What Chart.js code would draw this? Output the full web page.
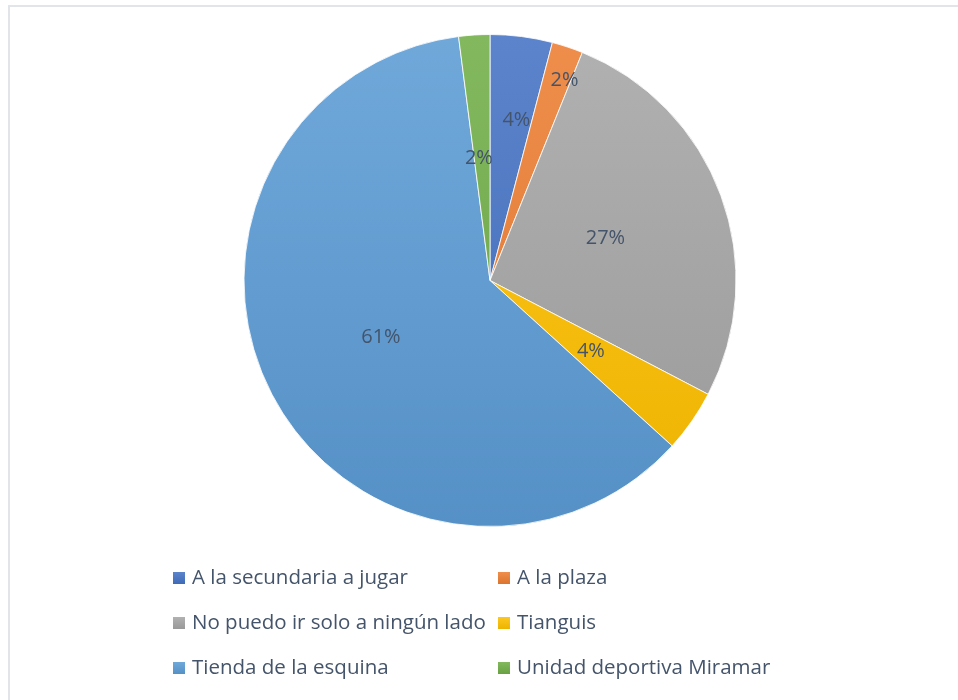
<!DOCTYPE html>
<html>
<head>
<meta charset="utf-8">
<script src="https://cdn.jsdelivr.net/npm/chart.js@4.4.0/dist/chart.umd.min.js"></script>
<style>
  body { margin: 0; background: #fff; overflow: hidden; }
  .frame { position: absolute; left: 8px; top: 5px; width: 1000px; height: 800px; border: 2px solid #e1e4e9; box-sizing: border-box; }
  canvas { position: absolute; left: 0; top: 0; }
</style>
</head>
<body>
<div class="frame"></div>
<canvas id="pieChart" width="958" height="700"></canvas>
<script>
const categories = [
    'A la secundaria a jugar',
    'A la plaza',
    'No puedo ir solo a ningún lado',
    'Tianguis',
    'Tienda de la esquina',
    'Unidad deportiva Miramar'
];
const counts = [2, 1, 13, 2, 30, 1];
const colors = ['#4472C4', '#ED7D31', '#A5A5A5', '#FFC000', '#5B9BD5', '#70AD47'];

const textColor = '#44546A';
const fontFamily = '"Open Sans", Lato, sans-serif';

function mix(hex, target, amount) {
    const n = parseInt(hex.slice(1), 16);
    const r = (n >> 16) & 255, g = (n >> 8) & 255, b = n & 255;
    const m = c => Math.round(c + (target - c) * amount);
    return `rgb(${m(r)}, ${m(g)}, ${m(b)})`;
}

function shade(ctx2d, hex, top, bottom) {
    const grad = ctx2d.createLinearGradient(0, top, 0, bottom);
    grad.addColorStop(0, mix(hex, 255, 0.13));
    grad.addColorStop(1, mix(hex, 0, 0.07));
    return grad;
}

// label placement (angle nudge in degrees, fraction of radius)
const labelPlacement = [[2, 0.66], [2, 0.87], [0, 0.5], [0, 0.5], [0, 0.5], [-1.5, 0.5]];

const sliceLabels = {
    id: 'sliceLabels',
    afterDatasetsDraw(chart) {
        const ctx = chart.ctx;
        const meta = chart.getDatasetMeta(0);
        const total = counts.reduce((a, b) => a + b, 0);
        ctx.save();
        ctx.font = `20px ${fontFamily}`;
        ctx.fillStyle = textColor;
        ctx.textAlign = 'center';
        ctx.textBaseline = 'middle';
        meta.data.forEach((arc, i) => {
            const mid = (arc.startAngle + arc.endAngle) / 2 + labelPlacement[i][0] * Math.PI / 180;
            const r = arc.outerRadius * labelPlacement[i][1];
            const x = arc.x + Math.cos(mid) * r;
            const y = arc.y + Math.sin(mid) * r;
            ctx.fillText(Math.round(counts[i] / total * 100) + '%', x, y);
        });
        ctx.restore();
    }
};

const gridLegend = {
    id: 'gridLegend',
    afterDraw(chart) {
        const ctx = chart.ctx;
        const colX = [173, 498];
        const rowY = [578, 623, 668];
        ctx.save();
        ctx.font = `20.5px ${fontFamily}`;
        ctx.textBaseline = 'middle';
        categories.forEach((label, i) => {
            const x = colX[i % 2];
            const y = rowY[Math.floor(i / 2)];
            ctx.fillStyle = shade(ctx, colors[i], y - 6, y + 6);
            ctx.fillRect(x, y - 6, 12, 12);
            ctx.fillStyle = textColor;
            ctx.fillText(label, x + 19, y);
        });
        ctx.restore();
    }
};

new Chart(document.getElementById('pieChart'), {
    type: 'pie',
    data: {
        labels: categories,
        datasets: [{
            data: counts,
            backgroundColor: (c) => {
                const area = c.chart.chartArea;
                if (!area) return colors[c.dataIndex];
                return shade(c.chart.ctx, colors[c.dataIndex], area.top, area.bottom);
            },
            borderColor: 'rgba(255,255,255,0.8)',
            borderWidth: 1
        }]
    },
    options: {
        responsive: false,
        animation: false,
        layout: { padding: { top: 34, bottom: 173, left: 200, right: 178 } },
        plugins: {
            legend: { display: false },
            tooltip: { enabled: false }
        }
    },
    plugins: [sliceLabels, gridLegend]
});
</script>
</body>
</html>
